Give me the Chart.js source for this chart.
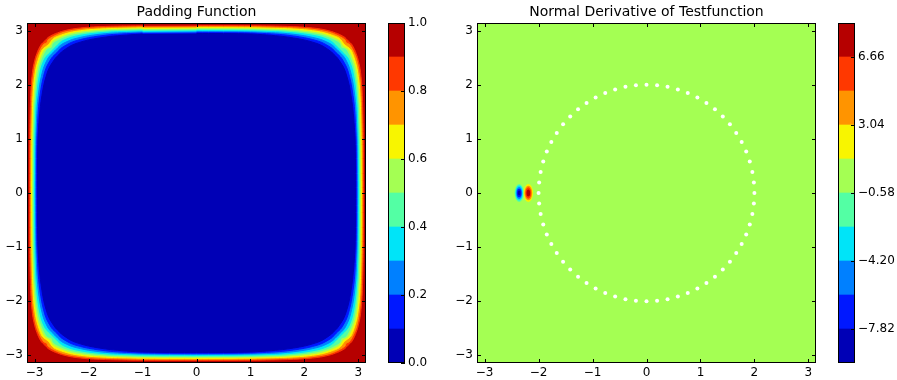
<!DOCTYPE html>
<html>
<head>
<meta charset="utf-8">
<script src="https://cdn.jsdelivr.net/npm/chart.js@4.4.0/dist/chart.umd.min.js"></script>
<style>
  html, body { margin: 0; padding: 0; background: #fff; }
  #wrap { position: relative; width: 897px; height: 380px; }
  canvas { position: absolute; top: 0; }
</style>
</head>
<body>
<div id="wrap">
  <canvas id="padChart" width="372" height="380" style="left:0"></canvas>
  <canvas id="padBar" width="70" height="380" style="left:380px"></canvas>
  <canvas id="derivChart" width="372" height="380" style="left:450px"></canvas>
  <canvas id="derivBar" width="67" height="380" style="left:830px"></canvas>
</div>
<script>
const FONT = "'DejaVu Sans', sans-serif";

// jet colours, one per band between two contour levels
const bandColors = ['#0000b6', '#0018ff', '#0080ff', '#00e4f8', '#53ffa4',
                    '#a4ff53', '#f8f500', '#ff9400', '#ff3800', '#b60000'];

const axisTicks = [-3, -2, -1, 0, 1, 2, 3];
const axisMin = -Math.PI;
const axisMax = Math.PI;

// --- Padding Function ---
const padLevels = [0.0, 0.1, 0.2, 0.3, 0.4, 0.5, 0.6, 0.7, 0.8, 0.9, 1.0];
const padBarTicks = [0.0, 0.2, 0.4, 0.6, 0.8, 1.0];
const padOuterValue = 1.0;

// level curves, top-right quarter: y at each station x,
// the last entry is where the curve meets the diagonal x = y
const padStationX = [0, 1.0, 1.6, 2.0, 2.3, 2.5, 2.65, 2.75];
const padCurve01 = [2.949, 2.939, 2.893, 2.829, 2.737, 2.609, 2.553];
const padCurve02 = [2.967, 2.958, 2.925, 2.870, 2.792, 2.682, 2.590];
const padCurve03 = [2.985, 2.976, 2.952, 2.906, 2.838, 2.746, 2.627];
const padCurve04 = [3.002, 2.995, 2.976, 2.939, 2.884, 2.802, 2.654];
const padCurve05 = [3.020, 3.015, 2.998, 2.965, 2.917, 2.848, 2.765, 2.682];
const padCurve06 = [3.039, 3.033, 3.018, 2.991, 2.949, 2.884, 2.811, 2.713];
const padCurve07 = [3.057, 3.052, 3.039, 3.017, 2.976, 2.921, 2.857, 2.743];
const padCurve08 = [3.077, 3.072, 3.059, 3.041, 3.004, 2.958, 2.893, 2.829, 2.774];
const padCurve09 = [3.096, 3.092, 3.081, 3.064, 3.031, 2.985, 2.930, 2.875, 2.811];

// --- Normal Derivative of Testfunction ---
const derivLevels = [-9.63, -7.82, -6.01, -4.20, -2.39, -0.58, 1.23, 3.04, 4.85, 6.66, 8.47];
const derivBarTicks = [-7.82, -4.20, -0.58, 3.04, 6.66];
const derivFieldValue = 0;

// the dipole: two lobes, nested contours (value, half width, half height)
const lobeX = [-2.36, -2.19];
const lobeY = [0, 0];
const lobeValues = [[-1.5, -3.3, -5.1, -6.9, -8.7], [2.1, 3.9, 5.7, 7.5]];
const lobeRx = [[0.085, 0.070, 0.056, 0.041, 0.024], [0.088, 0.071, 0.054, 0.034]];
const lobeRy = [[0.165, 0.138, 0.110, 0.080, 0.046], [0.165, 0.134, 0.104, 0.066]];

// collocation points on the circle r = 2, first quarter (the rest by rotation)
const ringX = [2.000, 1.990, 1.962, 1.914, 1.848, 1.764, 1.663, 1.546,
               1.414, 1.269, 1.111, 0.943, 0.765, 0.581, 0.390, 0.196];
const ringY = [0.000, 0.196, 0.390, 0.581, 0.765, 0.943, 1.111, 1.269,
               1.414, 1.546, 1.663, 1.764, 1.848, 1.914, 1.962, 1.990];

function minus(s) {
  return String(s).replace('-', '\u2212');
}

function bandOf(v, levels) {
  for (let i = 0; i < levels.length - 1; i++) {
    if (v < levels[i + 1]) return i;
  }
  return levels.length - 2;
}

// closed curve from a quarter, mirrored into the other three quarters
function fullRing(curve) {
  const n = curve.length - 1;
  const half = [];
  for (let i = 0; i < n; i++) half.push({ x: padStationX[i], y: curve[i] });
  const q = [...half, { x: curve[n], y: curve[n] },
             ...half.slice().reverse().map(p => ({ x: p.y, y: p.x }))];
  const r = q.slice().reverse();
  return [
    ...q,
    ...r.slice(1).map(p => ({ x: p.x, y: -p.y })),
    ...q.slice(1).map(p => ({ x: -p.x, y: -p.y })),
    ...r.slice(1, -1).map(p => ({ x: -p.x, y: p.y }))
  ];
}

function ringPoints() {
  const pts = [];
  const quarter = ringX.map((x, i) => ({ x: x, y: ringY[i] }));
  quarter.forEach(p => pts.push(p));
  quarter.forEach(p => pts.push({ x: -p.y, y: p.x }));
  quarter.forEach(p => pts.push({ x: -p.x, y: -p.y }));
  quarter.forEach(p => pts.push({ x: p.y, y: -p.x }));
  return pts;
}

function fieldPlugin(background, lobes) {
  return {
    id: 'field',
    beforeDatasetsDraw(chart) {
      const { ctx, chartArea: a, scales: { x, y } } = chart;
      ctx.save();
      ctx.beginPath();
      ctx.rect(a.left, a.top, a.right - a.left, a.bottom - a.top);
      ctx.clip();
      ctx.fillStyle = background;
      ctx.fillRect(a.left, a.top, a.right - a.left, a.bottom - a.top);
      lobes.forEach(l => {
        const cx = x.getPixelForValue(l.cx);
        const cy = y.getPixelForValue(l.cy);
        const rx = Math.abs(x.getPixelForValue(l.cx + l.rx) - cx);
        const ry = Math.abs(y.getPixelForValue(l.cy + l.ry) - cy);
        ctx.fillStyle = l.color;
        ctx.beginPath();
        ctx.ellipse(cx, cy, rx, ry, 0, 0, 2 * Math.PI);
        ctx.fill();
      });
      ctx.restore();
    },
    afterDraw(chart) {
      const { ctx, chartArea: a, scales: { x, y } } = chart;
      ctx.save();
      ctx.strokeStyle = '#000';
      ctx.lineWidth = 1;
      ctx.beginPath();
      axisTicks.forEach(v => {
        const px = Math.round(x.getPixelForValue(v)) + 0.5;
        ctx.moveTo(px, a.bottom); ctx.lineTo(px, a.bottom - 4);
        ctx.moveTo(px, a.top); ctx.lineTo(px, a.top + 4);
        const py = Math.round(y.getPixelForValue(v)) + 0.5;
        ctx.moveTo(a.left, py); ctx.lineTo(a.left + 4, py);
        ctx.moveTo(a.right, py); ctx.lineTo(a.right - 4, py);
      });
      ctx.stroke();
      ctx.strokeRect(a.left + 0.5, a.top + 0.5, a.right - a.left - 1, a.bottom - a.top - 1);
      ctx.restore();
    }
  };
}

const barFrame = {
  id: 'barFrame',
  afterDraw(chart) {
    const { ctx, chartArea: a, scales: { y } } = chart;
    ctx.save();
    ctx.strokeStyle = '#000';
    ctx.lineWidth = 1;
    ctx.beginPath();
    y.ticks.forEach(t => {
      const py = Math.round(y.getPixelForValue(t.value)) + 0.5;
      ctx.moveTo(a.right, py); ctx.lineTo(a.right - 4, py);
    });
    ctx.stroke();
    ctx.strokeRect(a.left + 0.5, a.top + 0.5, a.right - a.left - 1, a.bottom - a.top - 1);
    ctx.restore();
  }
};

function axisOpts(dir) {
  return {
    type: 'linear',
    min: axisMin,
    max: axisMax,
    grid: { display: false, drawTicks: false },
    border: { display: false },
    ticks: {
      color: '#000',
      font: { family: FONT, size: 12 },
      padding: dir === 'x' ? 3 : 4,
      maxRotation: 0,
      autoSkip: false,
      callback: v => minus(v)
    },
    afterBuildTicks: s => { s.ticks = axisTicks.map(v => ({ value: v })); },
    afterFit: s => { if (dir === 'x') s.height = 17; else s.width = 27; }
  };
}

function fieldChart(id, title, datasets, plugin) {
  return new Chart(document.getElementById(id), {
    type: 'scatter',
    data: { datasets: datasets },
    options: {
      responsive: false,
      animation: false,
      events: [],
      layout: { padding: { left: 0, right: 6, top: 0, bottom: 0 } },
      plugins: {
        legend: { display: false },
        tooltip: { enabled: false },
        title: {
          display: true,
          text: title,
          fullSize: false,
          color: '#000',
          font: { family: FONT, size: 14, weight: 'normal' },
          padding: { top: 4, bottom: 2.2 }
        }
      },
      scales: { x: axisOpts('x'), y: axisOpts('y') }
    },
    plugins: [plugin]
  });
}

function colorBar(id, levels, ticks, digits, axisWidth) {
  const datasets = bandColors.map((c, i) => ({
    data: [[levels[i], levels[i + 1]]],
    backgroundColor: c,
    borderWidth: 0,
    grouped: false,
    barPercentage: 1,
    categoryPercentage: 1
  }));
  return new Chart(document.getElementById(id), {
    type: 'bar',
    data: { labels: [''], datasets: datasets },
    options: {
      responsive: false,
      animation: false,
      events: [],
      layout: { padding: { left: 8, right: 0, top: 23, bottom: 17 } },
      plugins: { legend: { display: false }, tooltip: { enabled: false } },
      scales: {
        x: { display: false },
        y: {
          position: 'right',
          min: levels[0],
          max: levels[levels.length - 1],
          grid: { display: false, drawTicks: false },
          border: { display: false },
          ticks: {
            color: '#000',
            font: { family: FONT, size: 12 },
            padding: 3,
            callback: v => minus(Number(v).toFixed(digits))
          },
          afterBuildTicks: s => { s.ticks = ticks.map(v => ({ value: v })); },
          afterFit: s => { s.width = axisWidth; }
        }
      }
    },
    plugins: [barFrame]
  });
}

// left: padding function, inner curves first so they are drawn on top
const padCurves = [padCurve01, padCurve02, padCurve03, padCurve04, padCurve05,
                   padCurve06, padCurve07, padCurve08, padCurve09];
const padDatasets = padCurves.map((c, i) => ({
  data: fullRing(c),
  showLine: true,
  fill: 'shape',
  backgroundColor: bandColors[bandOf((padLevels[i] + padLevels[i + 1]) / 2, padLevels)],
  borderColor: bandColors[bandOf((padLevels[i] + padLevels[i + 1]) / 2, padLevels)],
  borderWidth: 1,
  pointRadius: 0,
  tension: 0.25
}));
fieldChart('padChart', 'Padding Function', padDatasets,
  fieldPlugin(bandColors[bandOf(padOuterValue, padLevels)], []));
colorBar('padBar', padLevels, padBarTicks, 1, 45);

// right: normal derivative, flat field with a dipole and the circle of points
const lobes = [];
lobeX.forEach((cx, k) => {
  lobeValues[k].forEach((v, j) => {
    lobes.push({ cx: cx, cy: lobeY[k], rx: lobeRx[k][j], ry: lobeRy[k][j],
                 color: bandColors[bandOf(v, derivLevels)] });
  });
});
const derivDatasets = [{
  data: ringPoints(),
  pointRadius: 2,
  pointBackgroundColor: '#fff',
  pointBorderWidth: 0,
  showLine: false
}];
fieldChart('derivChart', 'Normal Derivative of Testfunction', derivDatasets,
  fieldPlugin(bandColors[bandOf(derivFieldValue, derivLevels)], lobes));
colorBar('derivBar', derivLevels, derivBarTicks, 2, 42);
</script>
</body>
</html>
